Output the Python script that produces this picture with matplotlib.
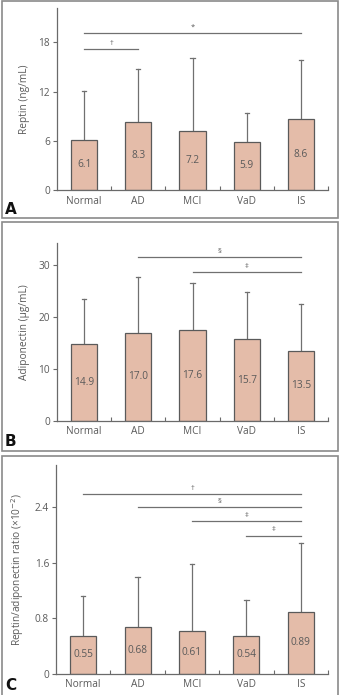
import matplotlib
matplotlib.use("Agg")
import matplotlib.pyplot as plt
from matplotlib.patches import Rectangle

plt.rcParams['font.family'] = ['Open Sans', 'DejaVu Sans']

categories = ["Normal", "AD", "MCI", "VaD", "IS"]

leptin_mean = [6.1, 8.3, 7.2, 5.9, 8.6]
leptin_upper = [12.1, 14.8, 16.1, 9.35, 15.8]
leptin_labels = ["6.1", "8.3", "7.2", "5.9", "8.6"]
leptin_ticks = [0, 6, 12, 18]
leptin_sig = [("*", 0, 4, 19.1), ("\u2020", 0, 1, 17.2)]

adipo_mean = [14.9, 17.0, 17.6, 15.7, 13.5]
adipo_upper = [23.5, 27.7, 26.6, 24.8, 22.6]
adipo_labels = ["14.9", "17.0", "17.6", "15.7", "13.5"]
adipo_ticks = [0, 10, 20, 30]
adipo_sig = [("\u00a7", 1, 4, 31.7), ("\u2021", 2, 4, 28.7)]

ratio_mean = [0.55, 0.68, 0.61, 0.54, 0.89]
ratio_upper = [1.12, 1.39, 1.58, 1.07, 1.89]
ratio_labels = ["0.55", "0.68", "0.61", "0.54", "0.89"]
ratio_ticks = [0, 0.8, 1.6, 2.4]
ratio_tick_labels = ["0", "0.8", "1.6", "2.4"]
ratio_sig = [("\u2020", 0, 4, 2.59), ("\u00a7", 1, 4, 2.40), ("\u2021", 2, 4, 2.20), ("\u2021", 3, 4, 1.99)]

W, H = 341, 695
fig = plt.figure(figsize=(W / 100, H / 100), dpi=100)
fig.patch.set_facecolor("white")

bar_color = "#e4bca9"
edge_color = "#5a5a5a"
axis_color = "#6a6a6a"
text_color = "#5a5a5a"

def fx(px):
    return px / W

def fy(py):
    return 1 - py / H

# panel frames
for top, bot in [(1, 218), (222, 451), (456, 700)]:
    fig.patches.append(Rectangle((fx(1.5), fy(bot)), fx(338) - fx(1.5), fy(top) - fy(bot),
                                 transform=fig.transFigure, fill=False,
                                 edgecolor="#8a8a8a", linewidth=1.2, zorder=0))

def panel(left, right, top, bottom, ymax, means, uppers, labels, ticks, ticklabels,
          ylabel, sig, letter, letter_y):
    ax = fig.add_axes([fx(left), fy(bottom), fx(right) - fx(left), fy(top) - fy(bottom)])
    x = list(range(len(categories)))
    ax.bar(x, means, width=0.48, color=bar_color, edgecolor=edge_color, linewidth=0.9, zorder=2)
    for xi, m, u, lab in zip(x, means, uppers, labels):
        ax.plot([xi, xi], [m, u], color="#707070", lw=0.9, zorder=1)
        ax.plot([xi - 0.04, xi + 0.04], [u, u], color="#707070", lw=0.9, zorder=1)
        ax.text(xi, m / 2, lab, ha="center", va="center", fontsize=7.3, color=text_color, zorder=3)
    for sym, a, b, yv in sig:
        ax.plot([a, b], [yv, yv], color="#707070", lw=0.9, clip_on=False)
        ax.text((a + b) / 2, yv + ymax * 0.012, sym, ha="center", va="bottom", fontsize=5.5,
                color=text_color)
    ax.set_xlim(-0.5, 4.5)
    ax.set_ylim(0, ymax)
    ax.set_yticks(ticks)
    ax.set_yticklabels(ticklabels, fontsize=7.3, color=text_color)
    ax.set_xticks([0.5, 1.5, 2.5, 3.5, 4.5])
    ax.set_xticklabels([])
    ax.set_xticks(x, minor=True)
    ax.set_xticklabels(categories, minor=True, fontsize=7.3, color=text_color)
    ax.tick_params(axis="x", which="major", direction="in", length=3, color=axis_color, width=0.8)
    ax.tick_params(axis="x", which="minor", length=0, pad=4)
    ax.tick_params(axis="y", direction="out", length=3, color=axis_color, width=0.8, pad=2)
    for s in ["top", "right"]:
        ax.spines[s].set_visible(False)
    for s in ["left", "bottom"]:
        ax.spines[s].set_color(axis_color)
        ax.spines[s].set_linewidth(0.9)
    ax.set_facecolor("none")
    ax.set_ylabel(ylabel, fontsize=7.3, color=text_color, labelpad=6)
    fig.text(fx(5), fy(letter_y), letter, fontsize=11, fontweight="bold", color="#111111",
             ha="left", va="center", family="DejaVu Sans")
    return ax

panel(57, 328, 8, 190, 22.2, leptin_mean, leptin_upper, leptin_labels, leptin_ticks,
      [str(t) for t in leptin_ticks], "Reptin (ng/mL)", leptin_sig, "A", 210)
panel(57, 328, 242.7, 420.7, 34.4, adipo_mean, adipo_upper, adipo_labels, adipo_ticks,
      [str(t) for t in adipo_ticks], "Adiponectin (\u03bcg/mL)", adipo_sig, "B", 442)
panel(56, 328, 465, 673.7, 3.01, ratio_mean, ratio_upper, ratio_labels, ratio_ticks,
      ratio_tick_labels, "Reptin/adiponectin ratio (\u00d710$^{-2}$)", ratio_sig, "C", 686)

fig.savefig("out.png", dpi=100, facecolor="white")
